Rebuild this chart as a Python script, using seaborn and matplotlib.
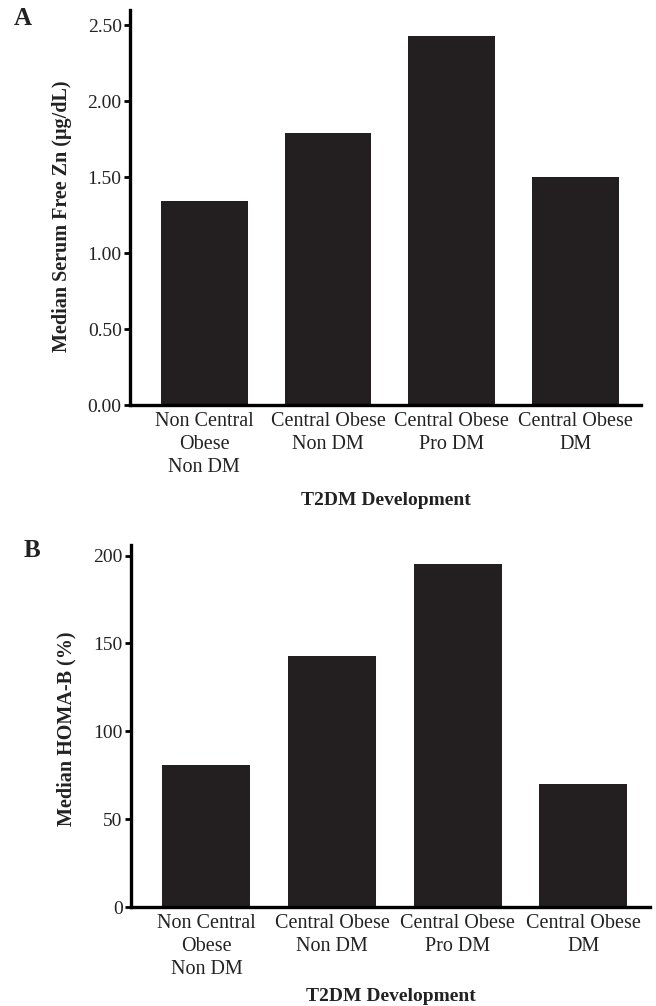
import matplotlib
matplotlib.use("Agg")
import matplotlib.pyplot as plt
import seaborn as sns
import pandas as pd

categories = ["Non Central\nObese\nNon DM", "Central Obese\nNon DM",
              "Central Obese\nPro DM", "Central Obese\nDM"]
zn_values = [1.34, 1.79, 2.43, 1.50]
homa_values = [81, 143, 195, 70]
zn_ticks = [0.0, 0.5, 1.0, 1.5, 2.0, 2.5]
zn_ticklabels = ["0.00", "0.50", "1.00", "1.50", "2.00", "2.50"]
homa_ticks = [0, 50, 100, 150, 200]
homa_ticklabels = ["0", "50", "100", "150", "200"]

sns.set_theme(style="white")
plt.rcParams["font.family"] = ["Liberation Serif", "DejaVu Serif"]

W, H = 656, 1006
fig = plt.figure(figsize=(W / 100, H / 100), dpi=100)
BAR = "#231f20"
TXT = "#222222"


def make_panel(rect, values, ticks, ticklabels, ylim, ylabel, letter, letter_xy,
               xlabel_y, ylabel_xy):
    ax = fig.add_axes([rect[0] / W, 1 - rect[3] / H, (rect[2] - rect[0]) / W,
                       (rect[3] - rect[1]) / H])
    ax.patch.set_alpha(0)
    df = pd.DataFrame({"group": categories, "value": values})
    sns.barplot(data=df, x="group", y="value", ax=ax, color=BAR, saturation=1,
                width=0.70, edgecolor="none", errorbar=None)
    ax.set_xlim(-0.6, 3.53)
    ax.set_ylim(*ylim)
    ax.set_yticks(ticks)
    ax.set_yticklabels(ticklabels, fontsize=14, color=TXT)
    ax.set_xticks(range(len(categories)))
    ax.set_xticklabels(categories, fontsize=14.5, linespacing=1.3, color=TXT)
    for s in ["top", "right"]:
        ax.spines[s].set_visible(False)
    for s in ["left", "bottom"]:
        ax.spines[s].set_linewidth(2.4)
        ax.spines[s].set_color("black")
    ax.tick_params(axis="y", which="both", left=True, length=4, width=2,
                   direction="out", pad=2, colors="black", labelcolor=TXT)
    ax.tick_params(axis="x", which="both", bottom=False, length=0, pad=5)
    ax.set_xlabel("T2DM Development", fontsize=14, fontweight="bold", color=TXT)
    ax.xaxis.set_label_coords(0.5, xlabel_y)
    ax.set_ylabel(ylabel, fontsize=14.5, fontweight="bold", color=TXT)
    ax.yaxis.set_label_coords(*ylabel_xy)
    fig.text(letter_xy[0] / W, 1 - letter_xy[1] / H, letter, fontsize=18,
             fontweight="bold", ha="left", va="top", color=TXT)
    return ax


make_panel((130, 10, 641, 405), zn_values, zn_ticks, zn_ticklabels, (0, 2.6),
           "Median Serum Free Zn (\u03bcg/dL)", "A", (14, 7), -0.22,
           (-0.114, 0.478))
make_panel((131, 545, 650, 907), homa_values, homa_ticks, homa_ticklabels,
           (0, 206), "Median HOMA-B (%)", "B", (24, 539), -0.225,
           (-0.106, 0.492))

fig.savefig("out.png", dpi=100, facecolor="white")
